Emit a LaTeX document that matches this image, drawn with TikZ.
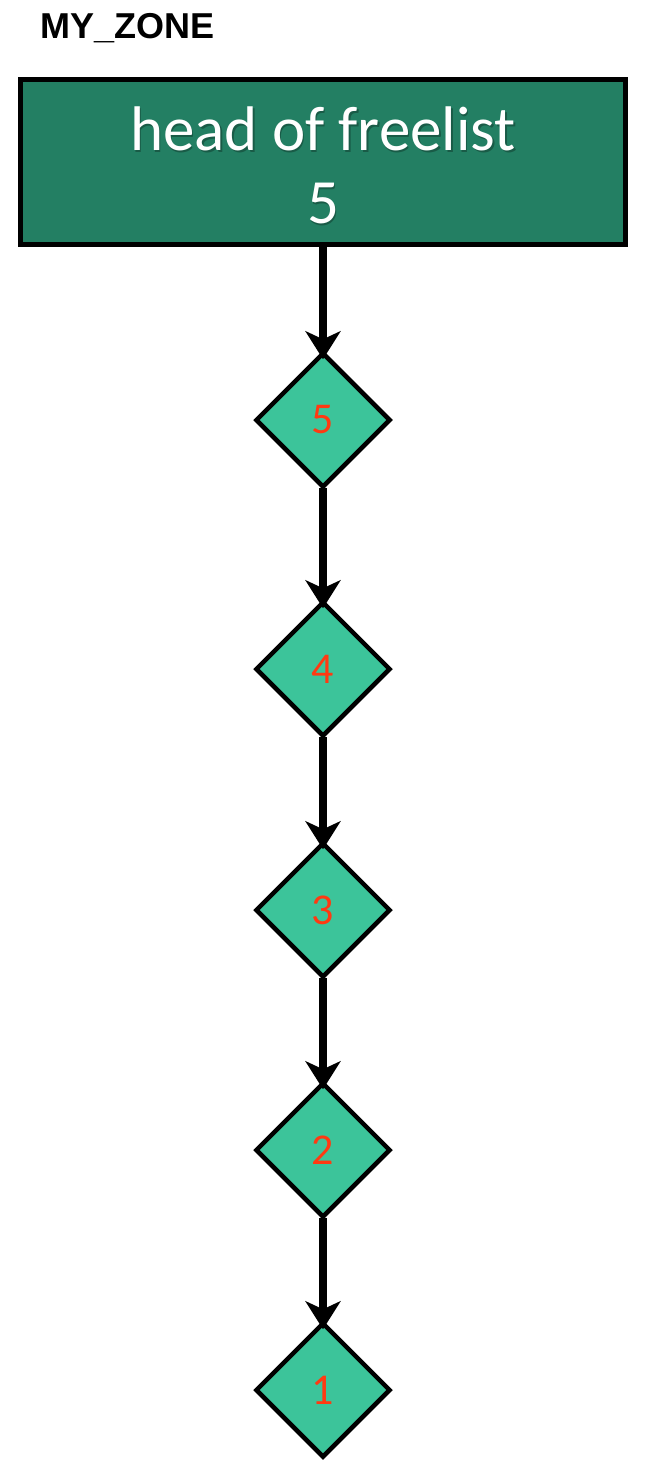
\documentclass[tikz,border=0pt]{standalone}
\usepackage{fontspec}
\setmainfont{Carlito}
\newfontfamily\titlefont{Liberation Sans}
\usetikzlibrary{shapes.geometric,arrows.meta}
\definecolor{headgreen}{HTML}{237F63}
\definecolor{cellgreen}{HTML}{3CC49A}
\definecolor{cellred}{HTML}{FF3A12}

\begin{document}
\begin{tikzpicture}[x=1pt,y=-1pt,
  headbox/.style={draw=black, line width=5pt, fill=headgreen,
    minimum width=605pt, minimum height=165pt, inner sep=0pt},
  headtext/.style={text=white, font=\fontsize{63}{63}\selectfont,
    anchor=base, inner sep=0pt},
  headshadow/.style={headtext, text=black, opacity=0.28},
  cell/.style={diamond, aspect=1, draw=black, line width=4.5pt,
    fill=cellgreen, minimum width=135pt, minimum height=135pt,
    inner sep=0pt, text=cellred, font=\fontsize{44}{44}\selectfont},
  link/.style={line width=8pt, shorten <=-2pt, shorten >=-9pt,
    -{Stealth[length=28pt,width=35pt,inset=8pt]}}]
\useasboundingbox (0,0) rectangle (645,1461);

% zone title
\node[anchor=base west, inner sep=0pt,
      font=\titlefont\bfseries\fontsize{36}{36}\selectfont] (title) at (40,39) {MY\_ZONE};

% head of the freelist
\node[headbox] (head) at (323,162) {};
\node[headshadow] (headshadowA) at (324.5,152.5) {head of freelist};
\node[headshadow] (headshadowB) at (324.5,225.5) {5};
\node[headtext] (headlabel) at (323,150) {head of freelist};
\node[headtext] (headvalue) at (323,223) {5};

% free cells
\node[cell] (c5) at (323,420) {5};
\node[cell] (c4) at (323,669) {4};
\node[cell] (c3) at (323,910) {3};
\node[cell] (c2) at (323,1150) {2};
\node[cell] (c1) at (323,1390) {1};

% links
\draw[link, shorten <=0pt] (head.south) -- (c5.north);
\draw[link] (c5.south) -- (c4.north);
\draw[link] (c4.south) -- (c3.north);
\draw[link] (c3.south) -- (c2.north);
\draw[link] (c2.south) -- (c1.north);
\end{tikzpicture}
\end{document}
